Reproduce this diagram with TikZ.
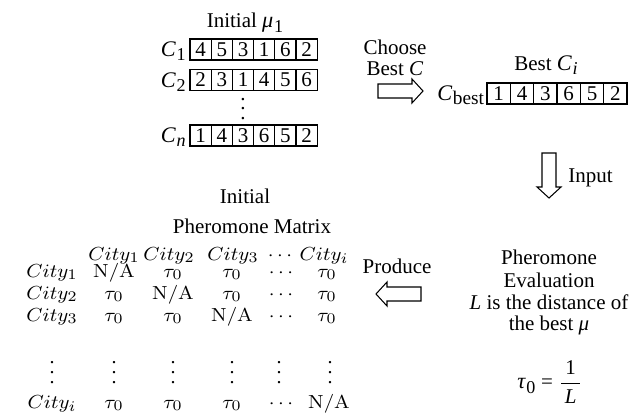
\documentclass[tikz,border=0pt]{standalone}
\usepackage[no-math]{fontspec}
\usepackage{graphicx}
\setmainfont{Liberation Serif}
\newcommand{\permrow}[6]{% name, left x, centre y, cell width, cell height, digits
  \foreach \d [count=\k] in {#6} {
    \node[cell, minimum width=#4*0.47619pt, minimum height=#5*0.47619pt]
      (#1-\k) at ({#2+#4*(\k-0.5)},#3) {\d};
  }}
% italic symbol with a lowered subscript, as in the chromosome labels
\newcommand{\csym}[2]{{\fontsize{10.6}{12}\selectfont\itshape #1}\kern0.4pt\raisebox{-2pt}{\fontsize{8.6}{9}\selectfont #2}}
% matrix entries: math set slightly wide
\newcommand{\mt}[1]{\scalebox{1.07}[1]{$#1$}}
% three stacked dots without extra space above
\newcommand{\dotcol}[1]{\vbox{\baselineskip=#1\lineskiplimit=0pt\hbox{.}\hbox{.}\hbox{.}}}
\begin{document}
\begin{tikzpicture}[x=0.47619pt,y=-0.47619pt,
  lbl/.style={inner sep=0pt, font=\fontsize{10}{12}\selectfont},
  cell/.style={draw, line width=0.5pt, inner sep=0pt, font=\fontsize{10}{12}\selectfont},
  mx/.style={inner sep=0pt, anchor=base, font=\fontsize{9.5}{11}\selectfont},
  blockarrow/.style={draw, line width=0.5pt, fill=white, line join=miter}]
\useasboundingbox (0,0) rectangle (644,419);

% initial population
\node[lbl, anchor=base] (poptitle) at (245,28) {Initial \csym{μ}{1}};
\permrow{ca}{190}{49.5}{21.2}{21}{4,5,3,1,6,2}
\permrow{cb}{190}{80}{21.2}{21}{2,3,1,4,5,6}
\permrow{cn}{190}{135.5}{21.2}{21}{1,4,3,6,5,2}
\node[lbl, anchor=base east] (calab) at (186,56.5) {\csym{C}{1}};
\node[lbl, anchor=base east] (cblab) at (186,87) {\csym{C}{2}};
\node[lbl, anchor=base east] (cnlab) at (186,142.5) {\csym{C}{\itshape n}};
\node[lbl, anchor=base] (popdots) at (243,119) {\dotcol{4.3pt}};

% choose best
\node[lbl, anchor=base] (choose1) at (395,55) {Choose};
\node[lbl, anchor=base] (choose2) at (395,76) {Best \textit{C}};
\draw[blockarrow] (378,84) -- (412,84) -- (412,79) -- (423,91) -- (412,103) -- (412,98) -- (378,98) -- cycle;

% best chromosome
\node[lbl, anchor=base] (besttitle) at (546,70) {Best \csym{C}{\itshape i}};
\permrow{cbest}{487}{93.5}{23.33}{21}{1,4,3,6,5,2}
\node[lbl, anchor=base east] (cbestlab) at (484.5,100.5) {\csym{C}{\fontsize{9.2}{10}\selectfont best}};

% input
\draw[blockarrow] (542,153) -- (556,153) -- (556,187) -- (561,187) -- (549,198) -- (537,187) -- (542,187) -- cycle;
\node[lbl, anchor=base west] (input) at (568,182) {Input};

% pheromone evaluation
\node[lbl, anchor=base] (ev1) at (549,264) {Pheromone};
\node[lbl, anchor=base] (ev2) at (549,287) {Evaluation};
\node[lbl, anchor=base] (ev3) at (549,309) {\textit{L} is the distance of};
\node[lbl, anchor=base] (ev4) at (549,330) {the best \textit{μ}};
\node[lbl] (tau) at (550,382) {\csym{τ}{0}\;=\;$\displaystyle\frac{\mbox{\,1\,}}{\mbox{\itshape\,L\,}}$};

% produce
\node[lbl, anchor=base] (produce) at (397,273) {Produce};
\draw[blockarrow] (421,287) -- (387,287) -- (387,282) -- (376,294) -- (387,306) -- (387,301) -- (421,301) -- cycle;

% pheromone matrix
\node[lbl, anchor=base] (mtitle1) at (245,203) {Initial};
\node[lbl, anchor=base] (mtitle2) at (252,233) {Pheromone Matrix};

\node[mx] (h1) at (114,260) {\mt{City_1}};
\node[mx] (h2) at (169,260) {\mt{City_2}};
\node[mx] (h3) at (233,260) {\mt{City_3}};
\node[mx] (h4) at (280,260) {\mt{\cdots}};
\node[mx] (h5) at (324,260) {\mt{City_i}};

\foreach \y/\r/\a/\b/\c/\e in {277/1/\mathrm{N/A}/\tau_0/\tau_0/\tau_0,
                                  299/2/\tau_0/\mathrm{N/A}/\tau_0/\tau_0,
                                  321/3/\tau_0/\tau_0/\mathrm{N/A}/\tau_0} {
  \node[mx] (r\r-0) at (52,\y) {\mt{City_\r}};
  \node[mx] (r\r-1) at (114,\y) {\mt{\a}};
  \node[mx] (r\r-2) at (173,\y) {\mt{\b}};
  \node[mx] (r\r-3) at (232,\y) {\mt{\c}};
  \node[mx] (r\r-4) at (281,\y) {\mt{\cdots}};
  \node[mx] (r\r-5) at (327,\y) {\mt{\e}};
}
\foreach \x [count=\k] in {52,114,173,232,279,330} {
  \node[mx] (vd-\k) at (\x,383) {\dotcol{4.7pt}};
}
\node[mx] (ri-0) at (52,408) {\mt{City_i}};
\node[mx] (ri-1) at (114,408) {\mt{\tau_0}};
\node[mx] (ri-2) at (173,408) {\mt{\tau_0}};
\node[mx] (ri-3) at (232,408) {\mt{\tau_0}};
\node[mx] (ri-4) at (281,408) {\mt{\cdots}};
\node[mx] (ri-5) at (329,408) {\mt{\mathrm{N/A}}};
\end{tikzpicture}
\end{document}
